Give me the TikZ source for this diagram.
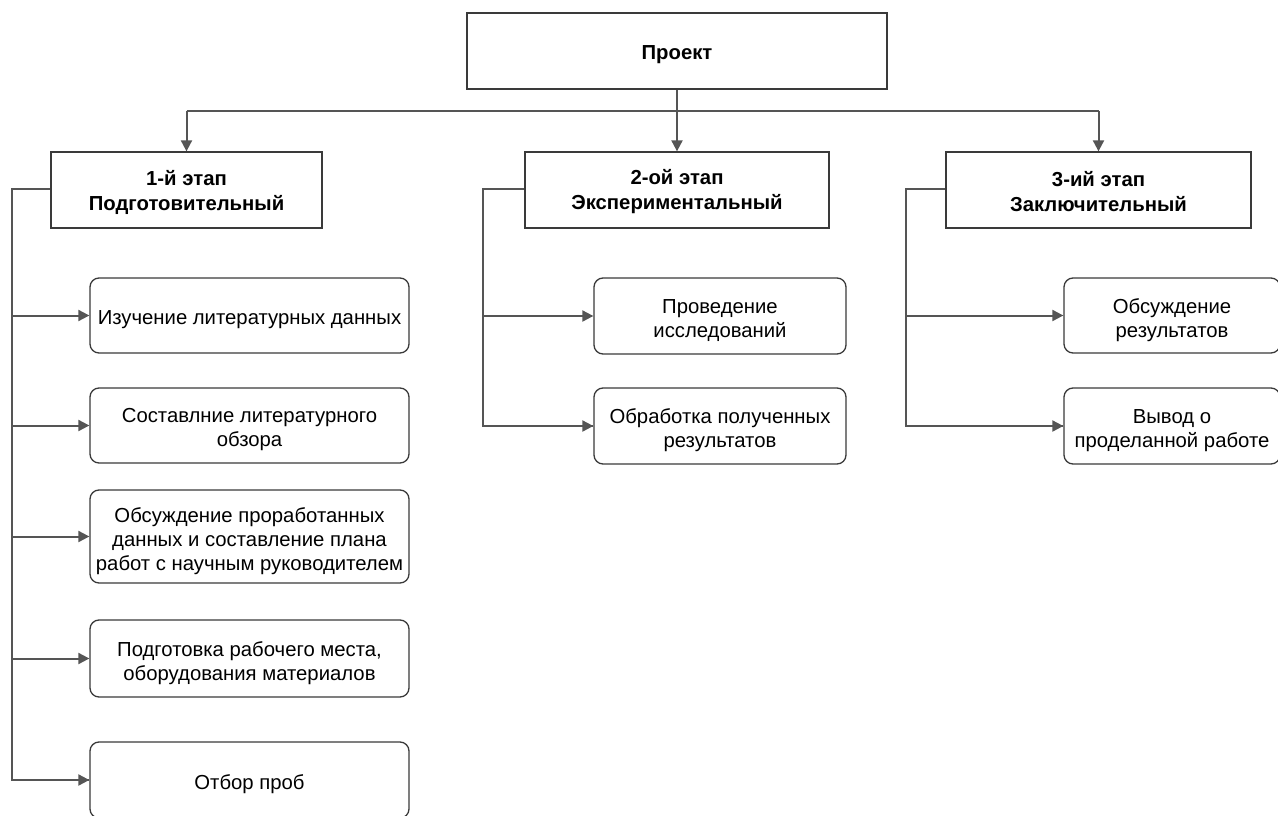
\documentclass[tikz,border=0pt]{standalone}
\usepackage{fontspec}
\setmainfont{Liberation Sans}
\usetikzlibrary{arrows.meta}
\definecolor{linegray}{HTML}{555555}
\definecolor{boxline}{HTML}{3A3A3A}
\begin{document}
\begin{tikzpicture}[x=1pt,y=-1pt,
  % box outlines carry their text as a centred label
  headtext/.style={align=center,font=\fontsize{20.3}{25}\selectfont\bfseries,inner sep=0pt,yshift=-2pt},
  itemtext/.style={align=center,font=\fontsize{20.3}{24}\selectfont,inner sep=0pt,yshift=-4.5pt},
  headbox/.style={draw=boxline,line width=1.3pt,fill=white,inner sep=0pt,
    minimum height=76pt,label={[headtext]center:#1}},
  itembox/.style={draw=boxline,line width=1.3pt,fill=white,rounded corners=9pt,
    inner sep=0pt,label={[itemtext]center:#1}},
  conn/.style={draw=linegray,line width=2pt},
  arr/.style={conn,-{Triangle[length=11pt,width=11pt]}}]
\useasboundingbox (0,0) rectangle (1278,816);

% project and stages
\node[draw=boxline,line width=1.3pt,minimum width=420pt,minimum height=76pt,
  label={[headtext,yshift=-1.5pt]center:Проект}] (proj) at (677,51) {};
\node[headbox={1-й этап\\Подготовительный},minimum width=271pt] (s1) at (186.5,190) {};
\node[headbox={2-ой этап\\Экспериментальный},minimum width=304pt] (s2) at (677,190) {};
\node[headbox={3-ий этап\\Заключительный},minimum width=305pt] (s3) at (1098.5,190) {};

% stage 1 tasks
\node[itembox={Изучение литературных данных},minimum width=319pt,minimum height=75pt] (a1) at (249.5,315.5) {};
\node[itembox={Составлние литературного\\обзора},minimum width=319pt,minimum height=75pt] (a2) at (249.5,425.5) {};
\node[itembox={Обсуждение проработанных\\данных и составление плана\\работ с научным руководителем},minimum width=319pt,minimum height=93pt] (a3) at (249.5,536.5) {};
\node[itembox={Подготовка рабочего места,\\оборудования материалов},minimum width=319pt,minimum height=77pt] (a4) at (249.5,658.5) {};
\node[itembox={Отбор проб},minimum width=319pt,minimum height=76pt] (a5) at (249.5,780) {};

% stage 2 tasks
\node[itembox={Проведение\\исследований},minimum width=252pt,minimum height=76pt] (b1) at (720,316) {};
\node[itembox={Обработка полученных\\результатов},minimum width=252pt,minimum height=76pt] (b2) at (720,426) {};

% stage 3 tasks
\node[itembox={Обсуждение\\результатов},minimum width=216pt,minimum height=75pt] (c1) at (1172,315.5) {};
\node[itembox={Вывод о\\проделанной работе},minimum width=216pt,minimum height=76pt] (c2) at (1172,426) {};

% distribution bus
\coordinate (bus) at (677,111);
\draw[conn] (s1.north |- bus) -- (s3.north |- bus);
\draw[arr] (proj.south) -- (s2.north);
\draw[arr] (s1.north |- bus) -- (s1.north);
\draw[arr] (s3.north |- bus) -- (s3.north);

% trunks
\coordinate (t1) at (12,189);
\coordinate (t2) at (483,189);
\coordinate (t3) at (906,189);
\draw[conn] (t1 -| s1.west) -- (t1) |- (a5.west);
\draw[conn] (t2 -| s2.west) -- (t2) |- (b2.west);
\draw[conn] (t3 -| s3.west) -- (t3) |- (c2.west);

\foreach \n in {a1,a2,a3,a4,a5} \draw[arr] (t1 |- \n.west) -- (\n.west);
\foreach \n in {b1,b2} \draw[arr] (t2 |- \n.west) -- (\n.west);
\foreach \n in {c1,c2} \draw[arr] (t3 |- \n.west) -- (\n.west);
\end{tikzpicture}
\end{document}
